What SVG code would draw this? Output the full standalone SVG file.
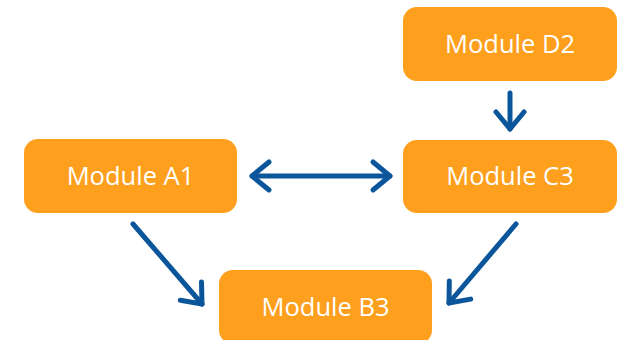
<svg xmlns="http://www.w3.org/2000/svg" width="618" height="340" viewBox="0 0 618 340">
<style>
.box{fill:#FE9F1E}
.lbl{font-family:"Open Sans","DejaVu Sans",sans-serif;font-size:25.5px;font-weight:500;fill:#FFFFFF;text-anchor:middle}
.edge{fill:none;stroke:#0B569B;stroke-width:5;stroke-linecap:round;stroke-linejoin:round}
</style>
<defs>
<marker id="chev" viewBox="-22 -18 26 36" markerWidth="26" markerHeight="36" refX="0" refY="0" orient="auto-start-reverse" markerUnits="userSpaceOnUse">
<path d="M-17,-14 L0,0 L-17,14" fill="none" stroke="#0B569B" stroke-width="5" stroke-linecap="round" stroke-linejoin="round"/>
</marker>
</defs>
<rect width="618" height="340" fill="#FFFFFF"/>
<g id="connectors">
<path class="edge" d="M252,176 L390,176" marker-start="url(#chev)" marker-end="url(#chev)"/>
<path class="edge" d="M510,93 L510,129" marker-end="url(#chev)"/>
<path class="edge" d="M133,224 L202,304" marker-end="url(#chev)"/>
<path class="edge" d="M516,224 L449,303" marker-end="url(#chev)"/>
</g>
<g id="node-d2">
<rect class="box" x="403" y="7" width="214" height="74" rx="14"/>
<text class="lbl" x="510" y="53">Module D2</text>
</g>
<g id="node-a1">
<rect class="box" x="24" y="139" width="213" height="74" rx="14"/>
<text class="lbl" x="130.5" y="185">Module A1</text>
</g>
<g id="node-c3">
<rect class="box" x="403" y="140" width="214" height="73" rx="14"/>
<text class="lbl" x="510" y="185">Module C3</text>
</g>
<g id="node-b3">
<rect class="box" x="219" y="270" width="213" height="74" rx="14"/>
<text class="lbl" x="325.5" y="316">Module B3</text>
</g>
</svg>
